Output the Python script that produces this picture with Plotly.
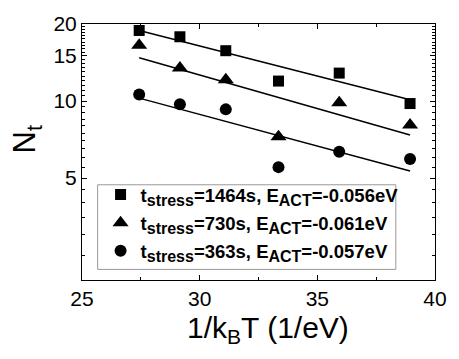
import plotly.graph_objects as go

# 1/kBT values (1/eV)
x_vals = [27.43, 29.16, 31.11, 33.35, 35.93, 38.94]

# N_t values per stress time
n_1464 = [18.87, 17.83, 15.73, 11.97, 12.86, 9.78]
n_730 = [16.53, 13.47, 12.11, 7.26, 9.86, 8.06]
n_363 = [10.60, 9.72, 9.28, 5.52, 6.34, 5.94]

# Arrhenius fit lines (end points)
fit_x = [27.43, 38.94]
fit_1464 = [18.87, 10.12]
fit_730 = [14.77, 7.37]
fit_363 = [10.27, 5.33]

t_stress = ["1464s", "730s", "363s"]
e_act = ["-0.056eV", "-0.061eV", "-0.057eV"]

SUB = '<sub><span style="font-size:16px">{}</span></sub>'
labels = ["<b>t" + SUB.format("stress") + "=" + t + ", E" + SUB.format("ACT") + "=" + e + "</b>"
          for t, e in zip(t_stress, e_act)]

x_ticks = [25, 30, 35, 40]
y_ticks = [5, 10, 15, 20]
y_minor = [v / 2 for v in range(4, 41) if v / 2 not in y_ticks]

fig = go.Figure()

for fy in [fit_1464, fit_730, fit_363]:
    fig.add_trace(go.Scatter(x=fit_x, y=fy, mode="lines",
                             line=dict(color="black", width=1.5),
                             showlegend=False, hoverinfo="skip"))

series = [(n_1464, "square", 11), (n_730, "triangle-up", 14), (n_363, "circle", 12)]
for i, ((ys, sym, sz), lab) in enumerate(zip(series, labels)):
    fig.add_trace(go.Scatter(x=x_vals, y=ys, mode="markers", name=lab,
                             legendgroup="g%d" % i,
                             marker=dict(symbol=sym, size=sz, color="black")))

font_fam = "Arial, Liberation Sans, sans-serif"

fig.update_layout(
    width=459, height=359,
    margin=dict(l=82, r=16, t=14, b=79),
    paper_bgcolor="white", plot_bgcolor="white",
    font=dict(family=font_fam, color="black"),
    legend=dict(x=0.0526, y=0.406, xanchor="left", yanchor="top",
                borderwidth=0, bgcolor="rgba(0,0,0,0)",
                font=dict(size=18.5, family=font_fam, color="black"),
                tracegroupgap=1),
    shapes=[
        dict(type="rect", xref="paper", yref="paper",
             x0=0.0443, x1=0.889, y0=0.0414, y1=0.372,
             line=dict(color="#999999", width=1), fillcolor="white",
             layer="above"),
    ],
    annotations=[
        dict(text="N<sub>t</sub>", textangle=-90, xref="paper", yref="paper",
             x=-0.155, y=0.55, xanchor="center", yanchor="middle",
             showarrow=False, font=dict(size=31, family=font_fam)),
        dict(text="1/k<sub>B</sub>T (1/eV)", xref="paper", yref="paper",
             x=0.526, y=-0.115, xanchor="center", yanchor="top",
             showarrow=False, font=dict(size=30, family=font_fam)),
    ],
)

fig.update_xaxes(range=[25, 40], tickmode="array", tickvals=x_ticks,
                 ticks="inside", ticklen=5, tickwidth=1, tickcolor="black",
                 showline=True, linecolor="black", linewidth=1, mirror="ticks",
                 showgrid=False, zeroline=False,
                 tickfont=dict(size=21, family=font_fam),
                 minor=dict(dtick=2.5, tick0=25, ticks="inside", ticklen=3,
                            tickcolor="black", showgrid=False))

fig.update_yaxes(type="log", range=[0.30103, 1.30103], tickmode="array",
                 tickvals=y_ticks, ticktext=[str(v) for v in y_ticks],
                 ticks="inside", ticklen=5, tickwidth=1, tickcolor="black",
                 showline=True, linecolor="black", linewidth=1, mirror="ticks",
                 showgrid=False, zeroline=False,
                 tickfont=dict(size=21, family=font_fam),
                 minor=dict(tickmode="array", tickvals=y_minor, ticks="inside",
                            ticklen=3, tickcolor="black", showgrid=False))

fig.write_html("out.html")
